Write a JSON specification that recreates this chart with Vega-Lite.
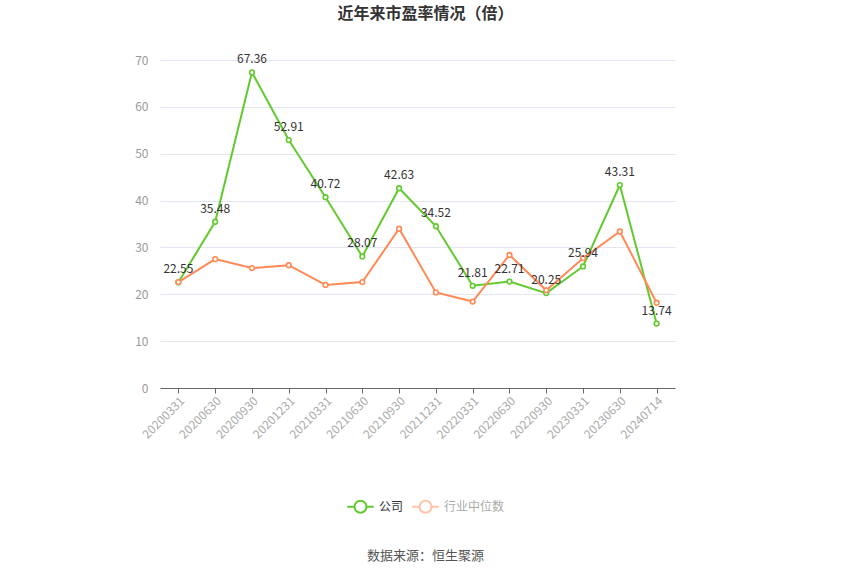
{
  "$schema": "https://vega.github.io/schema/vega-lite/v6.json",
  "width": 515,
  "height": 328,
  "autosize": "none",
  "padding": {"left": 160, "top": 60, "right": 175, "bottom": 187},
  "background": "white",
  "config": {
    "font": "Noto Sans CJK SC",
    "view": {"stroke": null}
  },
  "title": {
    "text": "近年来市盈率情况（倍）",
    "fontSize": 16,
    "fontWeight": "bold",
    "color": "#333333",
    "anchor": "middle",
    "dx": 8,
    "offset": 31
  },
  "data": {
    "values": [
      {"date": "20200331", "series": "公司", "value": 22.55},
      {"date": "20200630", "series": "公司", "value": 35.48},
      {"date": "20200930", "series": "公司", "value": 67.36},
      {"date": "20201231", "series": "公司", "value": 52.91},
      {"date": "20210331", "series": "公司", "value": 40.72},
      {"date": "20210630", "series": "公司", "value": 28.07},
      {"date": "20210930", "series": "公司", "value": 42.63},
      {"date": "20211231", "series": "公司", "value": 34.52},
      {"date": "20220331", "series": "公司", "value": 21.81},
      {"date": "20220630", "series": "公司", "value": 22.71},
      {"date": "20220930", "series": "公司", "value": 20.25},
      {"date": "20230331", "series": "公司", "value": 25.94},
      {"date": "20230630", "series": "公司", "value": 43.31},
      {"date": "20240714", "series": "公司", "value": 13.74},
      {"date": "20200331", "series": "行业中位数", "value": 22.6},
      {"date": "20200630", "series": "行业中位数", "value": 27.5},
      {"date": "20200930", "series": "行业中位数", "value": 25.6},
      {"date": "20201231", "series": "行业中位数", "value": 26.2},
      {"date": "20210331", "series": "行业中位数", "value": 22.0},
      {"date": "20210630", "series": "行业中位数", "value": 22.6},
      {"date": "20210930", "series": "行业中位数", "value": 34.0},
      {"date": "20211231", "series": "行业中位数", "value": 20.4},
      {"date": "20220331", "series": "行业中位数", "value": 18.45},
      {"date": "20220630", "series": "行业中位数", "value": 28.4},
      {"date": "20220930", "series": "行业中位数", "value": 20.85},
      {"date": "20230331", "series": "行业中位数", "value": 27.7},
      {"date": "20230630", "series": "行业中位数", "value": 33.4},
      {"date": "20240714", "series": "行业中位数", "value": 18.2}
    ]
  },
  "encoding": {
    "x": {
      "field": "date",
      "type": "ordinal",
      "sort": null,
      "scale": {"type": "point", "padding": 0.5},
      "axis": {
        "title": "数据来源：恒生聚源",
        "titleFontSize": 13,
        "titleFontWeight": "normal",
        "titleColor": "#555555",
        "titleX": 265,
        "titleY": 161,
        "titleAnchor": "middle",
        "titleAlign": "center",
        "labelAngle": -45,
        "labelAlign": "right",
        "labelBaseline": "top",
        "labelColor": "#aaaaaa",
        "labelFontSize": 12,
        "labelPadding": 2,
        "domainColor": "#666666",
        "tickColor": "#666666",
        "tickSize": 5,
        "grid": false
      }
    },
    "y": {
      "field": "value",
      "type": "quantitative",
      "scale": {"domain": [0, 70], "nice": false},
      "axis": {
        "title": null,
        "values": [0, 10, 20, 30, 40, 50, 60, 70],
        "labelOverlap": false,
        "domain": false,
        "ticks": false,
        "labelColor": "#999999",
        "labelFontSize": 12,
        "labelPadding": 12,
        "gridColor": "#e3e6f0"
      }
    },
    "color": {
      "field": "series",
      "type": "nominal",
      "scale": {"domain": ["公司", "行业中位数"], "range": ["#62c92f", "#ff8a56"]},
      "legend": {
        "title": null,
        "orient": "none",
        "legendX": 186,
        "legendY": 432,
        "direction": "horizontal",
        "symbolType": "M-1,0H-0.45M0.45,0H1M-0.45,0A0.45,0.45 0 1,1 0.45,0A0.45,0.45 0 1,1 -0.45,0",
        "symbolSize": 700,
        "symbolStrokeWidth": 2,
        "symbolFillColor": "white",
        "labelColor": {"expr": "datum.value === '公司' ? '#333333' : '#aaaaaa'"},
        "symbolOpacity": {"expr": "datum.value === '公司' ? 1 : 0.5"},
        "labelFontSize": 12,
        "labelOffset": 4,
        "columnPadding": 4
      }
    }
  },
  "layer": [
    {
      "mark": {"type": "line", "strokeWidth": 2}
    },
    {
      "mark": {"type": "point", "filled": false, "fill": "white", "fillOpacity": 1, "size": 22, "strokeWidth": 1.6, "opacity": 1}
    },
    {
      "transform": [{"filter": "datum.series === '公司'"}],
      "mark": {
        "type": "text",
        "dy": -13,
        "fontSize": 12,
        "color": "#333333"
      },
      "encoding": {
        "text": {"field": "value", "type": "quantitative", "format": ".2f"},
        "color": {"value": "#333333"}
      }
    }
  ]
}
